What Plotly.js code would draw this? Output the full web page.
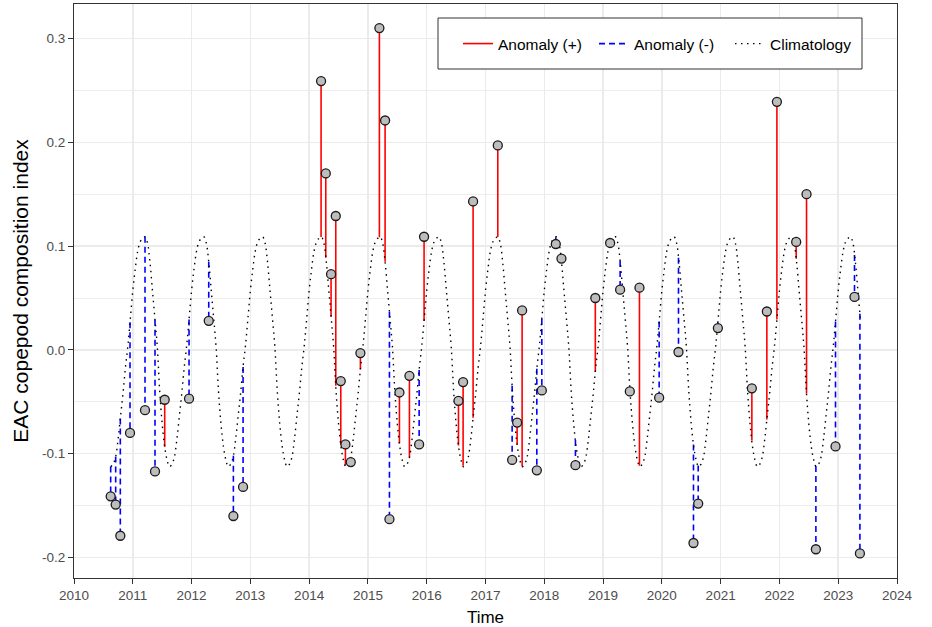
<!DOCTYPE html>
<html>
<head>
<meta charset="utf-8">
<script src="https://cdn.plot.ly/plotly-3.0.1.min.js"></script>
<style>
html, body { margin: 0; padding: 0; background: #ffffff; }
#chart { width: 932px; height: 627px; }
</style>
</head>
<body>
<div id="chart"></div>
<script>
// ---- data ----
const sampleTime = [
  2010.624, 2010.709, 2010.788, 2010.953, 2011.208, 2011.378, 2011.543, 2011.957,
  2012.292, 2012.711, 2012.876, 2014.203, 2014.283, 2014.373, 2014.453, 2014.538,
  2014.617, 2014.708, 2014.872, 2015.195, 2015.292, 2015.366, 2015.536, 2015.706,
  2015.871, 2015.955, 2016.540, 2016.619, 2016.789, 2017.209, 2017.453, 2017.538,
  2017.623, 2017.873, 2017.958, 2018.196, 2018.292, 2018.530, 2018.868, 2019.120,
  2019.290, 2019.455, 2019.619, 2019.954, 2020.283, 2020.538, 2020.618, 2020.953,
  2021.531, 2021.786, 2021.957, 2022.285, 2022.461, 2022.620, 2022.954, 2023.277,
  2023.369
];
const sampleIndex = [
  -0.141, -0.149, -0.179, -0.080, -0.058, -0.117, -0.048, -0.047,
   0.028, -0.160, -0.132,  0.259,  0.170,  0.073,  0.129, -0.030,
  -0.091, -0.108, -0.003,  0.310,  0.221, -0.163, -0.041, -0.025,
  -0.091,  0.109, -0.049, -0.031,  0.143,  0.197, -0.106, -0.070,
   0.038, -0.116, -0.039,  0.102,  0.088, -0.111,  0.050,  0.103,
   0.058, -0.040,  0.060, -0.046, -0.002, -0.186, -0.148,  0.021,
  -0.037,  0.037,  0.239,  0.104,  0.150, -0.192, -0.093,  0.051,
  -0.196
];
// seasonal climatology: fraction of year -> index value
const climFraction = [
  0.0000, 0.0417, 0.0833, 0.1250, 0.1667, 0.2083, 0.2500, 0.2917,
  0.3333, 0.3750, 0.4167, 0.4583, 0.5000, 0.5417, 0.5833, 0.6250,
  0.6667, 0.7083, 0.7500, 0.7917, 0.8333, 0.8750, 0.9167, 0.9583
];
const climValue = [
   0.057,  0.078,  0.095,  0.104,  0.1075, 0.109,  0.103,  0.085,
   0.058,  0.031,  0.003, -0.040, -0.071, -0.093, -0.106, -0.1125,
  -0.110, -0.103, -0.086, -0.064, -0.042, -0.017,  0.004,  0.030
];
const climYears = [2010, 2011, 2012, 2013, 2014, 2015, 2016, 2017, 2018, 2019, 2020, 2021, 2022, 2023];
const xTickVals = [2010, 2011, 2012, 2013, 2014, 2015, 2016, 2017, 2018, 2019, 2020, 2021, 2022, 2023, 2024];
const xTickText = ["2010", "2011", "2012", "2013", "2014", "2015", "2016", "2017", "2018", "2019", "2020", "2021", "2022", "2023", "2024"];
const yTickVals = [-0.2, -0.1, 0.0, 0.1, 0.2, 0.3];
const yTickText = ["-0.2", "-0.1", "0.0", "0.1", "0.2", "0.3"];
const yMinorVals = [-0.15, -0.05, 0.05, 0.15, 0.25];
const legendLabels = ["Anomaly (+)", "Anomaly (-)", "Climatology"];
const xTitle = "Time";
const yTitle = "EAC copepod composition index";

// ---- derived series ----
function climAt(t) {
  const f = t - Math.floor(t);
  const n = climFraction.length;
  let i = n - 1;
  for (let k = 0; k < n; k++) { if (climFraction[k] <= f) i = k; }
  const j = (i + 1) % n;
  const f0 = climFraction[i];
  const f1 = j === 0 ? 1 : climFraction[j];
  const w = (f - f0) / (f1 - f0);
  return climValue[i] + w * (climValue[j] - climValue[i]);
}

const tFirst = sampleTime[0], tLast = sampleTime[sampleTime.length - 1];
const climX = [], climY = [];
climYears.forEach(yr => {
  climFraction.forEach((f, k) => {
    const t = yr + f;
    if (t >= tFirst - 0.01 && t <= tLast + 0.01) { climX.push(t); climY.push(climValue[k]); }
  });
});

const posX = [], posY = [], negX = [], negY = [];
sampleTime.forEach((t, i) => {
  const c = climAt(t);
  const v = sampleIndex[i];
  if (v >= c) { posX.push(t, t, null); posY.push(c, v, null); }
  else { negX.push(t, t, null); negY.push(c, v, null); }
});

const traces = [
  { x: posX, y: posY, type: 'scatter', mode: 'lines', name: legendLabels[0],
    line: { color: '#ff0000', width: 1.6 }, hoverinfo: 'skip' },
  { x: negX, y: negY, type: 'scatter', mode: 'lines', name: legendLabels[1],
    line: { color: '#0000ff', width: 1.6, dash: '6px,4px' }, hoverinfo: 'skip' },
  { x: climX, y: climY, type: 'scatter', mode: 'lines', name: legendLabels[2],
    line: { color: '#000000', width: 1.4, dash: '1.5px,4.5px', shape: 'spline', smoothing: 1 }, hoverinfo: 'skip' },
  { x: sampleTime, y: sampleIndex, type: 'scatter', mode: 'markers', showlegend: false,
    marker: { size: 9, color: '#bdbdbd', line: { color: '#1a1a1a', width: 1.3 } }, hoverinfo: 'skip' }
];

const font = 'Liberation Sans, Arial, Helvetica, sans-serif';
const L = 74, R = 35, T = 4, B = 49, W = 932, H = 627;
const pw = W - L - R, ph = H - T - B;
function px2x(p) { return (p - L) / pw; }
function px2y(p) { return (H - B - p) / ph; }

const layout = {
  width: W, height: H,
  margin: { l: L, r: R, t: T, b: B, pad: 0 },
  paper_bgcolor: '#ffffff', plot_bgcolor: '#ffffff',
  font: { family: font, color: '#000000' },
  showlegend: true,
  legend: {
    orientation: 'h', xanchor: 'left', yanchor: 'middle',
    x: px2x(458), y: px2y(44),
    bgcolor: 'rgba(0,0,0,0)', borderwidth: 0,
    font: { family: font, size: 15.5, color: '#000000' },
    entrywidth: 91, entrywidthmode: 'pixels'
  },
  xaxis: {
    range: [2010, 2024], tickmode: 'array', tickvals: xTickVals, ticktext: xTickText,
    ticks: 'outside', ticklen: 5, tickwidth: 1, tickcolor: '#333333',
    tickfont: { family: font, size: 13.5, color: '#4d4d4d' },
    showgrid: true, gridcolor: '#ebebeb', gridwidth: 1.5, zeroline: false,
    showline: true, mirror: true, linecolor: '#333333', linewidth: 1,
    title: { text: xTitle, font: { family: font, size: 17, color: '#000000' }, standoff: 8 }
  },
  yaxis: {
    range: [-0.2197, 0.3332], tickmode: 'array', tickvals: yTickVals, ticktext: yTickText,
    ticks: 'outside', ticklen: 5, tickwidth: 1, tickcolor: '#333333',
    tickfont: { family: font, size: 13.5, color: '#4d4d4d' },
    showgrid: true, gridcolor: '#ebebeb', gridwidth: 1.5, zeroline: false,
    showline: true, mirror: true, linecolor: '#333333', linewidth: 1,
    minor: { tickmode: 'array', tickvals: yMinorVals, showgrid: true, gridcolor: '#ededed', gridwidth: 1, ticks: '' },
    title: { text: yTitle, font: { family: font, size: 21, color: '#000000' }, standoff: 7 }
  },
  shapes: [
    { type: 'rect', xref: 'paper', yref: 'paper', layer: 'above',
      x0: px2x(438), x1: px2x(862), y0: px2y(69), y1: px2y(18),
      line: { color: '#333333', width: 1 }, fillcolor: '#ffffff' }
  ]
};

Plotly.newPlot('chart', traces, layout, { staticPlot: true, displayModeBar: false });
</script>
</body>
</html>
